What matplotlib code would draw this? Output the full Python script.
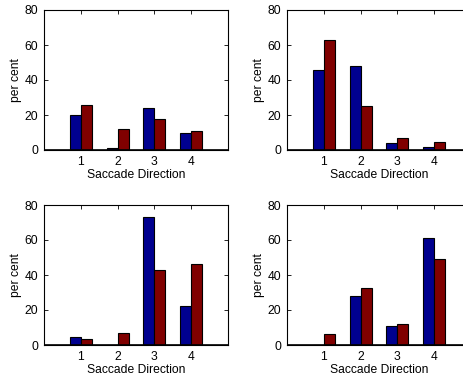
import numpy as np
import matplotlib
matplotlib.use("Agg")
import matplotlib.pyplot as plt

plt.rcParams['font.family'] = ['Liberation Sans', 'DejaVu Sans']

directions = [1, 2, 3, 4]
yticks = [0, 20, 40, 60, 80]

# blue / red series for each panel
tl_blue = [20, 1, 24, 10]
tl_red = [26, 12, 18, 11]
tr_blue = [46, 48, 4, 2]
tr_red = [63, 25, 7, 4.5]
bl_blue = [4.5, 0, 73, 22.5]
bl_red = [3.5, 7, 43, 46.5]
br_blue = [0, 28, 11, 61]
br_red = [6.5, 32.5, 12, 49]

panels = [
    ([44, 150], tl_blue, tl_red),
    ([287, 150], tr_blue, tr_red),
    ([44, 345], bl_blue, bl_red),
    ([287, 345], br_blue, br_red),
]

W, H = 463, 379
fig = plt.figure(figsize=(W / 100, H / 100), dpi=100)

x = np.array(directions)
bw = 0.3
for (left, bottom), blue, red in panels:
    ax = fig.add_axes([left / W, (H - bottom) / H, 184 / W, 140 / H])
    ax.bar(x - bw / 2, blue, bw, color='#00008f', edgecolor='black', linewidth=0.8)
    ax.bar(x + bw / 2, red, bw, color='#800000', edgecolor='black', linewidth=0.8)
    ax.axhline(0, color='black', linewidth=1.2)
    ax.set_xlim(0, 5)
    ax.set_ylim(0, 80)
    ax.set_xticks(directions)
    ax.set_yticks(yticks)
    ax.tick_params(direction='in', top=True, right=True, labelsize=8.7, length=3, width=0.6, pad=4)
    ax.set_xlabel('Saccade Direction', fontsize=8.7, labelpad=1)
    ax.set_ylabel('per cent', fontsize=8.7, labelpad=2)
    for s in ax.spines.values():
        s.set_linewidth(0.8)

fig.savefig('out.png', dpi=100)
